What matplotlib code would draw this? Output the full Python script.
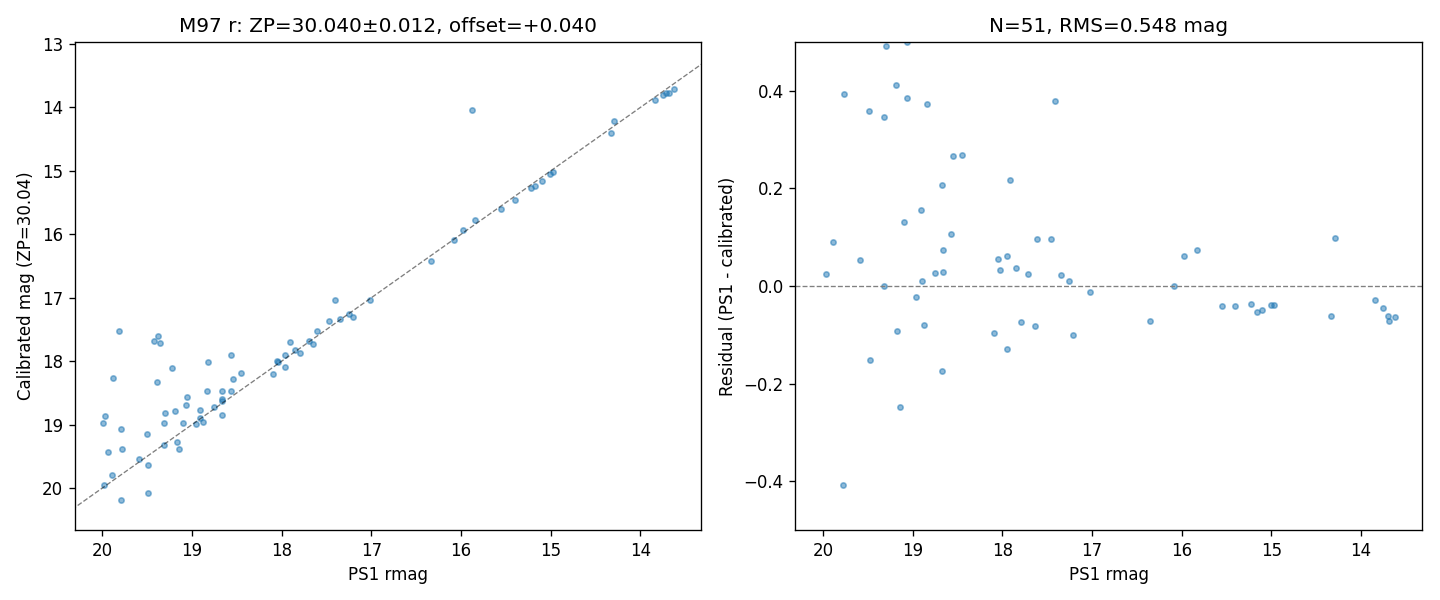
import numpy as np
import matplotlib
matplotlib.use("Agg")
import matplotlib.pyplot as plt

# Left panel: PS1 rmag vs calibrated mag (all matched stars)
ps1_all = [19.81, 19.42, 19.375, 19.36, 19.88, 19.39, 19.22, 18.82, 18.57, 18.45,
           18.54, 18.10, 18.05, 18.04, 17.96, 17.96, 17.91, 18.83, 18.67, 18.57,
           19.05, 19.07, 18.66, 18.66, 18.75, 18.91, 19.30, 19.19, 18.67, 19.97,
           19.99, 19.31, 19.10, 18.95, 18.88, 18.91, 19.79, 19.50, 19.31, 19.17,
           19.14, 19.78, 19.94, 19.59, 19.49, 19.89, 19.98, 19.49, 19.79, 17.85,
           17.79, 17.70, 17.65, 17.61, 17.47, 17.41, 17.35, 17.25, 17.20, 17.02,
           16.34, 16.08, 15.98, 15.84, 15.88, 15.55, 15.40, 15.22, 15.17, 15.10,
           15.01, 14.97, 14.33, 14.30, 13.84, 13.75, 13.71, 13.68, 13.63]
cal_all = [17.52, 17.68, 17.61, 17.71, 18.27, 18.33, 18.11, 18.01, 17.91, 18.18,
           18.28, 18.20, 18.00, 18.02, 17.90, 18.09, 17.70, 18.47, 18.47, 18.47,
           18.57, 18.69, 18.60, 18.63, 18.72, 18.77, 18.82, 18.79, 18.85, 18.86,
           18.98, 18.98, 18.98, 18.99, 18.96, 18.90, 19.07, 19.15, 19.32, 19.27,
           19.39, 19.39, 19.43, 19.54, 19.64, 19.79, 19.95, 20.08, 20.19, 17.82,
           17.87, 17.68, 17.73, 17.52, 17.37, 17.04, 17.34, 17.25, 17.30, 17.04,
           16.42, 16.09, 15.93, 15.77, 14.04, 15.60, 15.46, 15.27, 15.24, 15.16,
           15.05, 15.02, 14.40, 14.21, 13.88, 13.80, 13.77, 13.77, 13.71]

# Right panel: residuals of the stars used in the fit
ps1_fit = [19.305, 19.06, 19.77, 19.19, 19.07, 19.49, 19.32, 18.84, 18.55, 18.45,
           18.67, 18.91, 19.10, 18.57, 19.89, 18.66, 19.59, 19.97, 18.75, 18.66,
           18.90, 19.32, 18.96, 18.88, 19.18, 19.48, 18.67, 19.14, 19.78, 17.41,
           17.92, 17.61, 17.46, 18.05, 17.95, 18.03, 17.85, 17.71, 17.35, 17.26,
           17.02, 17.79, 17.64, 18.10, 17.95, 17.21, 16.35, 16.09, 15.98, 15.83,
           15.55, 15.41, 15.23, 15.16, 15.10, 15.01, 14.97, 14.29, 14.34, 13.84,
           13.75, 13.70, 13.69, 13.62]
resid = [0.492, 0.500, 0.393, 0.412, 0.385, 0.358, 0.346, 0.373, 0.266, 0.268,
         0.207, 0.155, 0.131, 0.106, 0.090, 0.073, 0.053, 0.024, 0.026, 0.028,
         0.010, 0.000, -0.023, -0.079, -0.093, -0.152, -0.174, -0.247, -0.407, 0.379,
         0.217, 0.096, 0.096, 0.055, 0.061, 0.032, 0.036, 0.024, 0.022, 0.010,
         -0.013, -0.074, -0.083, -0.097, -0.130, -0.101, -0.072, 0.001, 0.061, 0.073,
         -0.040, -0.041, -0.037, -0.054, -0.049, -0.039, -0.039, 0.098, -0.062, -0.029,
         -0.046, -0.062, -0.072, -0.064]

fig, (ax1, ax2) = plt.subplots(1, 2, figsize=(12, 5), dpi=120)
fig.subplots_adjust(left=0.052, right=0.9875, top=0.93, bottom=0.1167, wspace=0.15)

ax1.scatter(ps1_all, cal_all, s=10, alpha=0.5)
lims = [20.66, 12.97]
ax1.plot(lims, lims, 'k--', lw=0.8, alpha=0.5)
ax1.set_xlim(20.305, 13.32)
ax1.set_ylim(20.66, 12.97)
ax1.set_xlabel('PS1 rmag')
ax1.set_ylabel('Calibrated mag (ZP=30.04)')
ax1.set_title('M97 r: ZP=30.040±0.012, offset=+0.040', fontsize=12)

ax2.scatter(ps1_fit, resid, s=10, alpha=0.5)
ax2.axhline(0, color='gray', ls='--', lw=0.8)
ax2.set_xlim(20.31, 13.32)
ax2.set_ylim(-0.5, 0.5)
ax2.set_xlabel('PS1 rmag')
ax2.set_ylabel('Residual (PS1 - calibrated)')
ax2.set_title('N=51, RMS=0.548 mag', fontsize=12)

plt.savefig('out.png')
